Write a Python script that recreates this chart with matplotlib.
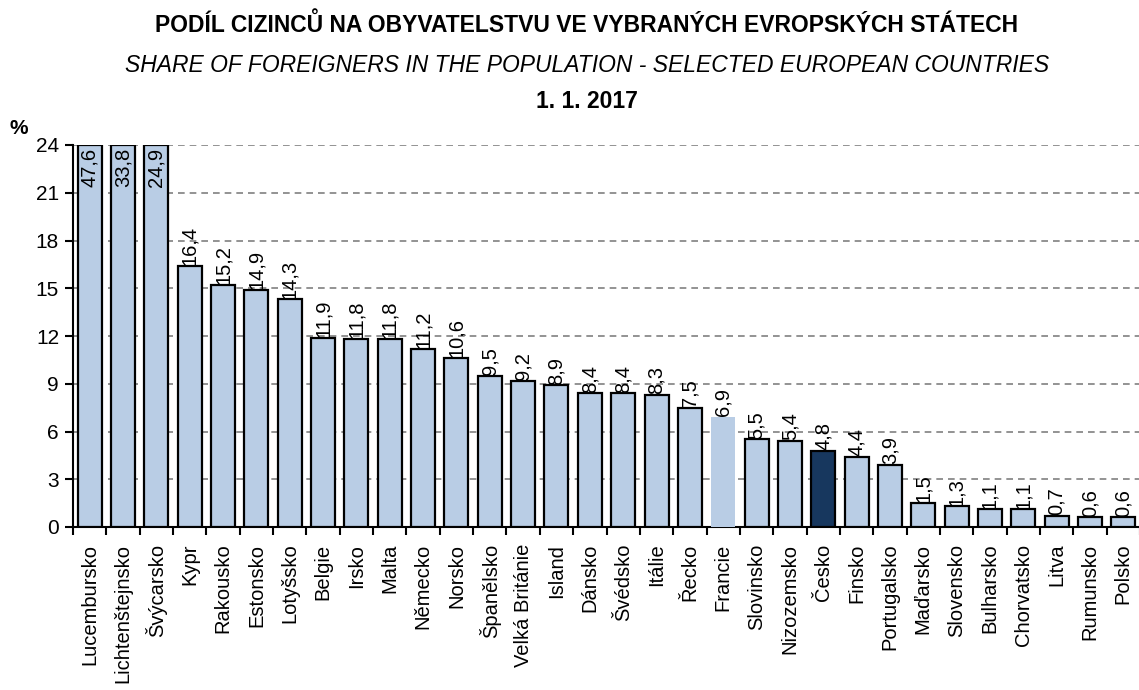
import matplotlib
matplotlib.use("Agg")
import matplotlib.pyplot as plt
from matplotlib import font_manager as fm

countries = ["Lucembursko", "Lichtenštejnsko", "Švýcarsko", "Kypr", "Rakousko", "Estonsko",
             "Lotyšsko", "Belgie", "Irsko", "Malta", "Německo", "Norsko", "Španělsko",
             "Velká Británie", "Island", "Dánsko", "Švédsko", "Itálie", "Řecko", "Francie",
             "Slovinsko", "Nizozemsko", "Česko", "Finsko", "Portugalsko", "Maďarsko",
             "Slovensko", "Bulharsko", "Chorvatsko", "Litva", "Rumunsko", "Polsko"]
values = [47.6, 33.8, 24.9, 16.4, 15.2, 14.9, 14.3, 11.9, 11.8, 11.8, 11.2, 10.6, 9.5,
          9.2, 8.9, 8.4, 8.4, 8.3, 7.5, 6.9, 5.5, 5.4, 4.8, 4.4, 3.9, 1.5, 1.3, 1.1, 1.1,
          0.7, 0.6, 0.6]
yticks = [0, 3, 6, 9, 12, 15, 18, 21, 24]
highlight = "Česko"

names = {f.name for f in fm.fontManager.ttflist}
fam = ["Liberation Sans Narrow", "DejaVu Sans"] if "Liberation Sans Narrow" in names else ["Liberation Sans", "DejaVu Sans"]
plt.rcParams['font.family'] = fam

fig = plt.figure(figsize=(11.39, 6.9), dpi=100)
ax = fig.add_axes([73/1139, 1 - 527/690, (1140-73)/1139, (527-145)/690])

light = "#B9CDE5"
dark = "#17375E"
ymax = 24
x = list(range(len(countries)))
colors = [dark if c == highlight else light for c in countries]
edges = ["none" if c == "Francie" else "black" for c in countries]
bars = ax.bar(x, [min(v, ymax) for v in values], width=0.72, color=colors,
              edgecolor=edges, linewidth=1.6, zorder=3)

for xi, v in zip(x, values):
    lab = f"{v:.1f}".replace(".", ",")
    if v > ymax:
        ax.text(xi, ymax - 0.2, lab, rotation=90, ha="center", va="top",
                fontsize=14.5, zorder=4)
    else:
        ax.text(xi, v + 0.05, lab, rotation=90, ha="center", va="bottom",
                fontsize=14.5, zorder=4)

ax.set_xlim(-0.5, len(countries) - 0.5)
ax.set_ylim(0, ymax)
ax.set_yticks(yticks)
ax.set_yticklabels([str(t) for t in yticks], fontsize=15)
for t in yticks[1:]:
    ax.axhline(t, color="#808080", linestyle=(0, (4, 3)), linewidth=1.2, zorder=1)

ax.set_xticks(x)
ax.set_xticklabels(countries, rotation=90, fontsize=14.5)
ax.tick_params(axis="x", length=0, pad=12)
ax.set_xticks([i - 0.5 for i in range(len(countries) + 1)], minor=True)
ax.tick_params(axis="x", which="minor", length=6, width=1.5, direction="out")
ax.tick_params(axis="y", length=6, width=1.5, direction="out", pad=4)

for s in ["top", "right"]:
    ax.spines[s].set_visible(False)
ax.spines["left"].set_linewidth(1.5)
ax.spines["bottom"].set_linewidth(1.5)

fig.text(0.515, 1 - 25/690, "PODÍL CIZINCŮ NA OBYVATELSTVU VE VYBRANÝCH EVROPSKÝCH STÁTECH",
         ha="center", va="center", fontsize=16.5, fontweight="bold")
fig.text(0.515, 1 - 65/690, "SHARE OF FOREIGNERS IN THE POPULATION - SELECTED EUROPEAN COUNTRIES",
         ha="center", va="center", fontsize=16.5, fontstyle="italic")
fig.text(0.515, 1 - 101/690, "1. 1. 2017", ha="center", va="center", fontsize=16.5,
         fontweight="bold")
fig.text(10/1139, 1 - 128/690, "%", ha="left", va="center", fontsize=15, fontweight="bold")

fig.savefig("out.png", dpi=100)
